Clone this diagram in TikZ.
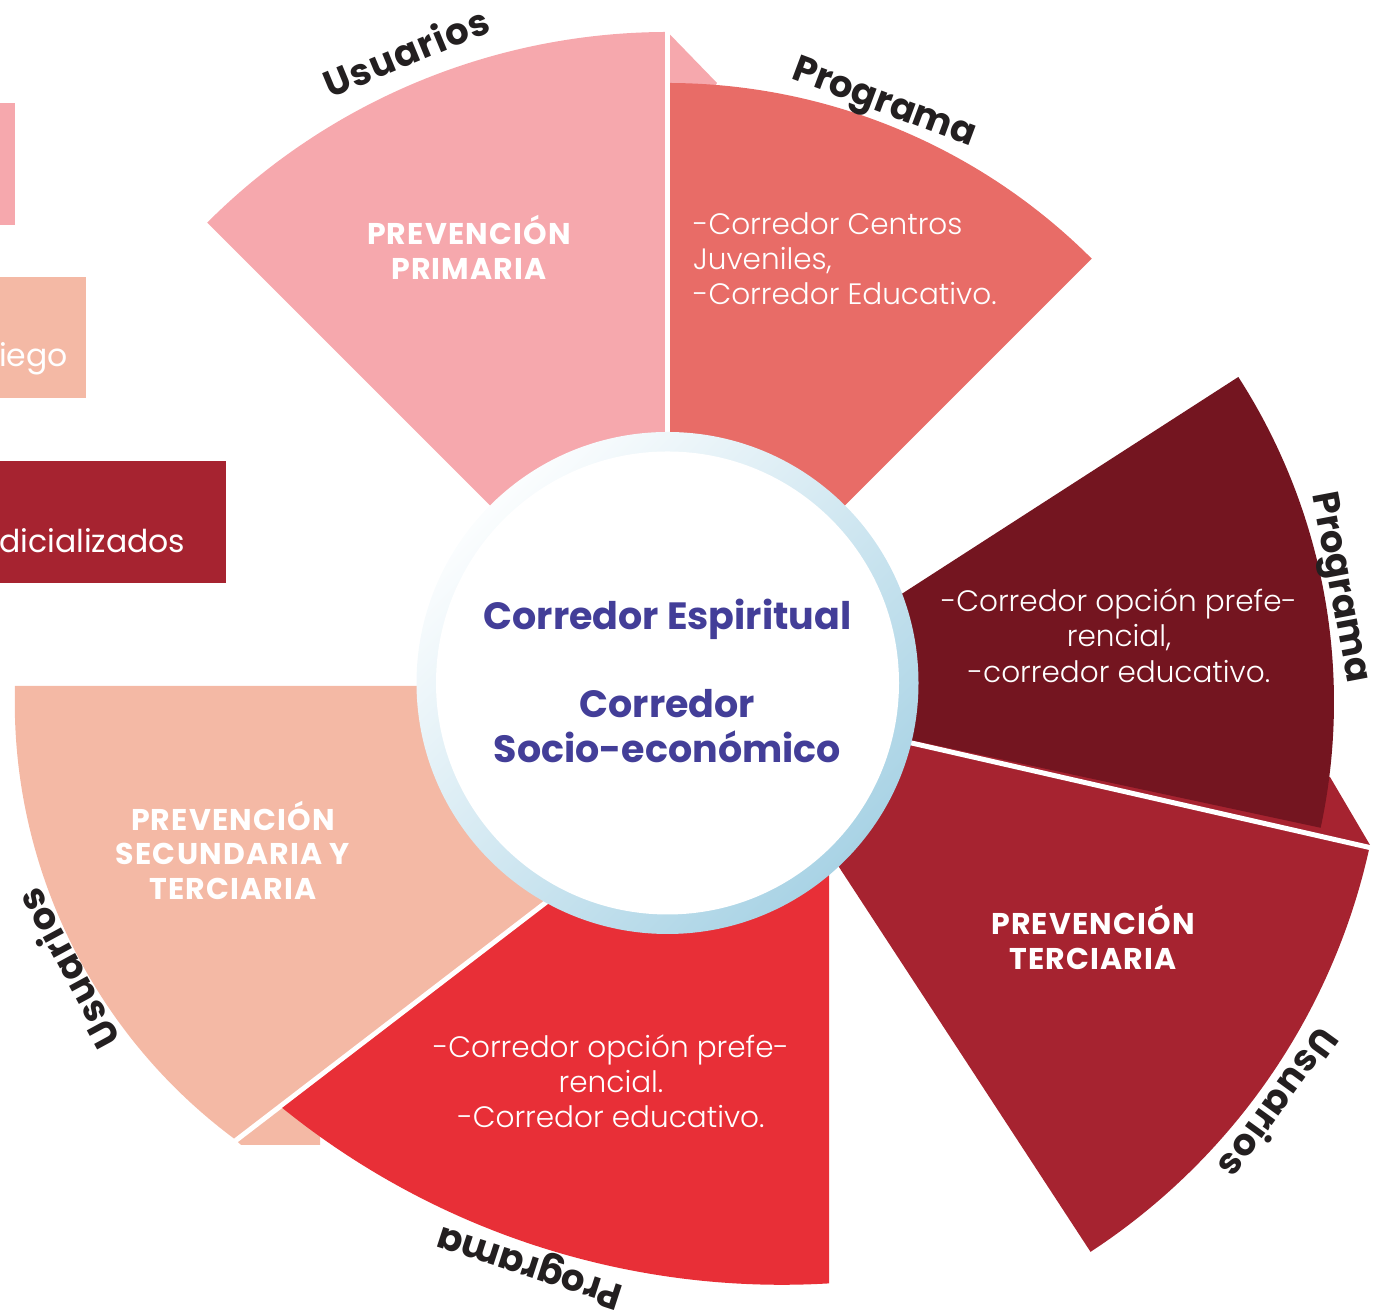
\documentclass[tikz,border=0pt]{standalone}
\usepackage{fontspec}
\setmainfont{Poppins}
\IfFontExistsTF{Poppins Light}{\newfontfamily\lightfont{Poppins Light}}{\newfontfamily\lightfont{Poppins}}
\newfontfamily\spacedfont{Poppins}[LetterSpace=4.0]
\newfontfamily\spacedlabfont{Poppins}[LetterSpace=3.0]
\definecolor{pinkc}{HTML}{F6A8AD}
\definecolor{coralc}{HTML}{E86C67}
\definecolor{maroonc}{HTML}{741520}
\definecolor{darkredc}{HTML}{A62330}
\definecolor{redc}{HTML}{E82F37}
\definecolor{peachc}{HTML}{F4B9A5}
\definecolor{textblue}{HTML}{433E98}
\definecolor{labelc}{HTML}{231F20}
\definecolor{ringA}{HTML}{FBFDFE}
\definecolor{ringB}{HTML}{A9D3E5}
\begin{document}
\begin{tikzpicture}[x=1pt,y=1pt,
  boldlab/.style={text=white, font=\spacedfont\fontsize{30}{30}\selectfont\bfseries, inner sep=0pt, anchor=base},
  lightlab/.style={text=white, font=\lightfont\fontsize{29.5}{29.5}\selectfont, inner sep=0pt, anchor=base},
  lightleft/.style={lightlab, anchor=base west},
  legendlab/.style={text=white, font=\fontsize{31.5}{31.5}\selectfont, inner sep=0pt, anchor=base west},
  centerlab/.style={text=textblue, font=\fontsize{38}{38}\selectfont\bfseries, inner sep=0pt, anchor=base},
  arclab/.style={text=labelc, font=\fontsize{37}{37}\selectfont\bfseries, inner sep=0pt, anchor=base},
  userlab/.style={arclab, font=\spacedlabfont\fontsize{37}{37}\selectfont\bfseries},
  gap/.style={white, line width=5pt}]
\useasboundingbox (0,0) rectangle (1377,1311);
% centres
\coordinate (C) at (667.5,628);
\coordinate (M) at (734,609);
\coordinate (D) at (735,603);
\coordinate (R) at (782,820);
\coordinate (P) at (559,609);
% legend
\fill[pinkc] (0,1086) rectangle (15,1208);
\fill[peachc] (0,913) rectangle (86,1034);
\fill[darkredc] (0,728) rectangle (226,850);
\node[legendlab] (leg2) at (-1,944) {iego};
\node[legendlab] (leg3) at (-1,758) {dicializados};
% top group
\fill[pinkc] (C) -- ([shift={(135:651pt)}]C) arc[start angle=135, end angle=90, radius=651pt] -- (717,1228) -- (700,1201) -- cycle;
\fill[coralc] (C) -- ([shift={(45:600pt)}]C) arc[start angle=45, end angle=90, radius=600pt] -- cycle;
\coordinate (g1a) at (667.5,628);
\coordinate (g1b) at (667.5,1288);
\draw[gap, line width=4.5pt] (g1a) -- (g1b);
% right group
\fill[darkredc] (D) -- (1330,534) -- (1370,466) arc[start angle=-12.17, end angle=-56.8, radius=650pt] -- cycle;
\coordinate (g2a) at (905,569.5);
\coordinate (g2b) at (1374,462.5);
\draw[gap] (g2a) -- (g2b);
\fill[maroonc] (M) -- ([shift={(-12.1:600pt)}]M) arc[start angle=-12.1, end angle=32.8, radius=600pt] -- cycle;
% bottom group
\fill[peachc] (15,625) arc[start angle=178.3, end angle=233.6, radius=544pt] -- (241,166) -- (320,166) -- (320,215) -- (600,430) -- (430,625) -- cycle;
\coordinate (g3a) at (229.9,166);
\coordinate (g3b) at (598,448.5);
\draw[gap] (g3a) -- (g3b);
\fill[redc] (829,451) -- (829,27.6) arc[start angle=-86.6, end angle=-129, radius=794pt] -- (547,406) -- (640,477) -- cycle;
% centre circle
\shade[top color=ringA, bottom color=ringB, shading angle=45] (C) circle[radius=251pt];
\fill[white] (C) circle[radius=231.5pt];
\node[centerlab] (c1) at (667.5,681) {Corredor Espiritual};
\node[centerlab] (c2) at (667.5,593) {Corredor};
\node[centerlab] (c3) at (667.5,548) {Socio-económico};
% sector texts
\node[boldlab] (p1) at (469,1066) {PREVENCIÓN};
\node[boldlab] (p2) at (469,1031) {PRIMARIA};
\node[boldlab] (s1) at (233,480) {PREVENCIÓN};
\node[boldlab] (s2) at (233,446) {SECUNDARIA Y};
\node[boldlab] (s3) at (233,411) {TERCIARIA};
\node[boldlab] (t1) at (1093,376) {PREVENCIÓN};
\node[boldlab] (t2) at (1093,341) {TERCIARIA};
\node[lightleft] (a1) at (693,1076) {-Corredor Centros};
\node[lightleft] (a2) at (693,1041) {Juveniles,};
\node[lightleft] (a3) at (693,1006) {-Corredor Educativo.};
\node[lightlab] (b1) at (1119,699) {-Corredor opción prefe-};
\node[lightlab] (b2) at (1119,664) {rencial,};
\node[lightlab] (b3) at (1119,628) {-corredor educativo.};
\node[lightlab] (r1) at (611,253) {-Corredor opción prefe-};
\node[lightlab] (r2) at (611,218) {rencial.};
\node[lightlab] (r3) at (611,183) {-Corredor educativo.};
% arc labels
\node[userlab, rotate=22.5] (u1) at ([shift={(112.5:669pt)}]C) {Usuarios};
\node[arclab, rotate=-20.5] (q1) at ([shift={(69.5:609pt)}]C) {Programa};
\node[arclab, rotate=-79.3] (q2) at ([shift={(10.7:607pt)}]M) {Programa};
\node[userlab, rotate=-126] (u2) at ([shift={(-36:659pt)}]D) {Usuarios};
\node[arclab, rotate=162] (q3) at ([shift={(-108:805pt)}]R) {Programa};
\node[userlab, rotate=118.5] (u3) at ([shift={(208.5:545pt)}]P) {Usuarios};
\end{tikzpicture}
\end{document}
